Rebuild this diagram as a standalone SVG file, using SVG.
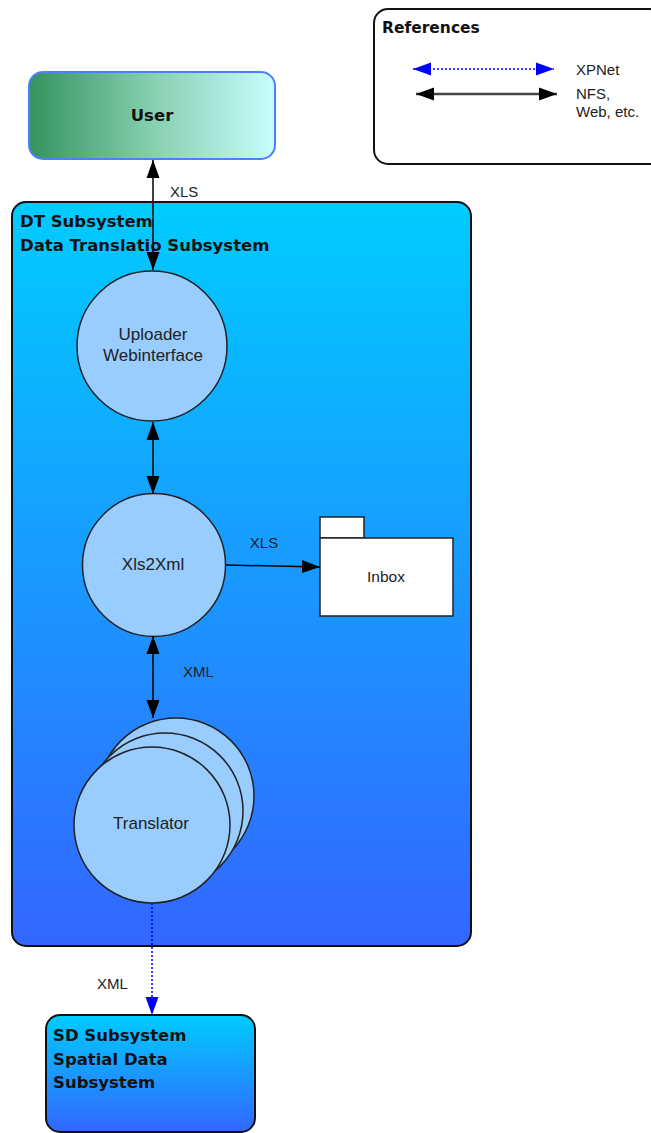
<svg xmlns="http://www.w3.org/2000/svg" width="651" height="1133" viewBox="0 0 651 1133">
<style>
.t{font-family:"Liberation Sans",Arial,sans-serif;fill:#222}
.b{font-family:"DejaVu Sans","Liberation Sans",sans-serif;font-weight:bold;fill:#111}
.circ{fill:#99ccff;stroke:#222;stroke-width:1.5}
.c{stroke:#000;stroke-width:1.5;fill:none}
.blue{stroke:#0000ff;stroke-width:1.5;stroke-dasharray:2,2;fill:none}
</style>
<defs>
<linearGradient id="gUser" x1="0" y1="0" x2="1" y2="0">
<stop offset="0" stop-color="#35935f"/>
<stop offset="0.5" stop-color="#86cfb0"/>
<stop offset="1" stop-color="#c8fdfd"/>
</linearGradient>
<linearGradient id="gSys" x1="0" y1="0" x2="0" y2="1">
<stop offset="0" stop-color="#00ccff"/>
<stop offset="1" stop-color="#3366ff"/>
</linearGradient>
<marker id="ah" markerUnits="userSpaceOnUse" markerWidth="20" markerHeight="14" refX="18" refY="6.5" orient="auto-start-reverse" viewBox="0 0 20 13">
<path d="M0,0 L18,6.5 L0,13 Z" fill="#000"/>
</marker>
<marker id="ahb" markerUnits="userSpaceOnUse" markerWidth="20" markerHeight="14" refX="18" refY="6.5" orient="auto-start-reverse" viewBox="0 0 20 13">
<path d="M0,0 L18,6.5 L0,13 Z" fill="#0000ff"/>
</marker>
</defs>
<rect width="651" height="1133" fill="#fff"/>

<g id="references">
<rect x="374" y="9" width="289" height="155" rx="14" fill="#fff" stroke="#111" stroke-width="2"/>
<text class="b" x="382" y="33" font-size="15.5">References</text>
<line class="blue" x1="413" y1="69" x2="554" y2="69" marker-start="url(#ahb)" marker-end="url(#ahb)"/>
<line x1="416" y1="94" x2="557" y2="94" stroke="#444" stroke-width="2.5" marker-start="url(#ah)" marker-end="url(#ah)"/>
<text class="t" x="576" y="75" font-size="15">XPNet</text>
<text class="t" x="576" y="99" font-size="15">NFS,</text>
<text class="t" x="576" y="117" font-size="15">Web, etc.</text>
</g>

<g id="user">
<rect x="29" y="72" width="246" height="87" rx="14" fill="url(#gUser)" stroke="#4f7fff" stroke-width="2"/>
<text class="b" x="152" y="121" font-size="16.5" text-anchor="middle">User</text>
</g>

<g id="dt-subsystem">
<rect x="12" y="202" width="459" height="744" rx="14" fill="url(#gSys)" stroke="#111" stroke-width="2"/>
<text class="b" x="20" y="227" font-size="16.5">DT Subsystem</text>
<text class="b" x="20" y="251" font-size="16.5">Data Translatio Subsystem</text>
</g>

<g id="uploader">
<circle class="circ" cx="152" cy="346" r="75"/>
<text class="t" x="153" y="340" font-size="17" text-anchor="middle">Uploader</text>
<text class="t" x="153" y="361" font-size="17" text-anchor="middle">Webinterface</text>
</g>

<g id="xls2xml">
<circle class="circ" cx="154" cy="565" r="71.5"/>
<text class="t" x="153" y="570" font-size="17" text-anchor="middle">Xls2Xml</text>
</g>

<g id="inbox">
<rect x="320" y="517" width="44" height="21" fill="#fff" stroke="#222" stroke-width="1.5"/>
<rect x="320" y="538" width="133" height="78" fill="#fff" stroke="#222" stroke-width="1.5"/>
<text class="t" x="386" y="582" font-size="15.5" text-anchor="middle">Inbox</text>
</g>

<g id="translator">
<circle class="circ" cx="176" cy="796" r="78"/>
<circle class="circ" cx="165" cy="811" r="78"/>
<circle class="circ" cx="152" cy="825" r="78"/>
<text class="t" x="151" y="829" font-size="17" text-anchor="middle">Translator</text>
</g>

<g id="sd-subsystem">
<rect x="46" y="1015" width="209" height="117" rx="14" fill="url(#gSys)" stroke="#111" stroke-width="2"/>
<text class="b" x="53" y="1041" font-size="16.5">SD Subsystem</text>
<text class="b" x="53" y="1065" font-size="16.5">Spatial Data</text>
<text class="b" x="53" y="1088" font-size="16.5">Subsystem</text>
</g>

<g id="connectors">
<line class="c" x1="153" y1="160" x2="153" y2="270" marker-start="url(#ah)" marker-end="url(#ah)"/>
<text class="t" x="170" y="197" font-size="15">XLS</text>
<line class="c" x1="153" y1="422" x2="153" y2="494" marker-start="url(#ah)" marker-end="url(#ah)"/>
<line class="c" x1="226" y1="565" x2="320" y2="567" marker-end="url(#ah)"/>
<text class="t" x="264" y="548" font-size="15" text-anchor="middle">XLS</text>
<line class="c" x1="153" y1="636" x2="153" y2="718" marker-start="url(#ah)" marker-end="url(#ah)"/>
<text class="t" x="183" y="677" font-size="15">XML</text>
<line class="blue" x1="152" y1="903" x2="152" y2="1015" marker-end="url(#ahb)"/>
<text class="t" x="97" y="989" font-size="15">XML</text>
</g>
</svg>
